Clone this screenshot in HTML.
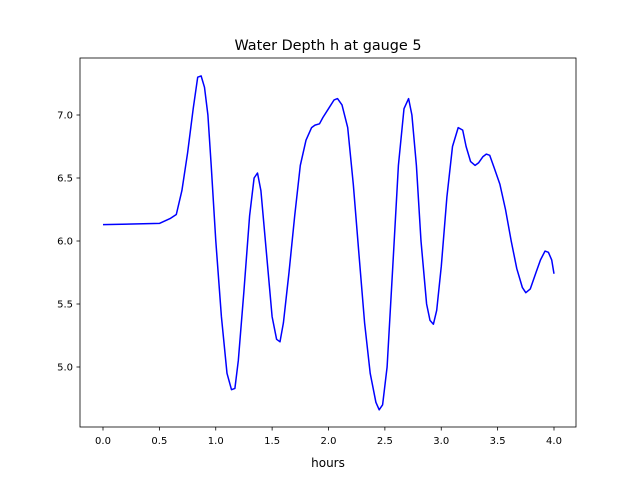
<!DOCTYPE html>
<html><head><meta charset="utf-8"><style>
body{margin:0;background:#fff;}
svg text{font-family:"DejaVu Sans","Liberation Sans",sans-serif;fill:#000;}
</style></head><body>
<svg id="chart" width="640" height="480" xmlns="http://www.w3.org/2000/svg">
<rect width="640" height="480" fill="#fff"/>
<text x="328" y="50" font-size="14.4" text-anchor="middle">Water Depth h at gauge 5</text>
<g id="ticks"></g>
<path id="line" fill="none" stroke="#0000ff" stroke-width="1.5" stroke-linejoin="round"/>
<rect x="80" y="58" width="496" height="369" fill="none" stroke="#000" stroke-width="0.8"/>
<text x="328" y="467" font-size="12" text-anchor="middle">hours</text>
</svg>
<script>
const hours=[0,0.5,0.6,0.65,0.7,0.75,0.8,0.84,0.87,0.9,0.93,0.96,1.0,1.05,1.1,1.14,1.17,1.2,1.25,1.3,1.34,1.37,1.4,1.45,1.5,1.54,1.57,1.6,1.65,1.7,1.75,1.8,1.85,1.88,1.92,1.95,2.0,2.05,2.08,2.12,2.17,2.22,2.27,2.32,2.37,2.42,2.45,2.48,2.52,2.57,2.62,2.67,2.71,2.74,2.78,2.82,2.87,2.9,2.93,2.96,3.0,3.05,3.1,3.15,3.19,3.22,3.26,3.3,3.33,3.37,3.4,3.43,3.47,3.52,3.57,3.62,3.67,3.72,3.75,3.79,3.84,3.88,3.92,3.95,3.98,4.0];
const depth=[6.13,6.14,6.18,6.21,6.4,6.7,7.05,7.3,7.31,7.22,7.0,6.6,6.0,5.4,4.95,4.82,4.83,5.05,5.6,6.2,6.5,6.54,6.4,5.9,5.4,5.22,5.2,5.35,5.75,6.2,6.6,6.8,6.9,6.92,6.93,6.98,7.05,7.12,7.13,7.08,6.9,6.45,5.9,5.35,4.95,4.72,4.66,4.7,5.0,5.8,6.6,7.05,7.13,7.0,6.6,6.0,5.5,5.37,5.34,5.45,5.8,6.35,6.75,6.9,6.88,6.75,6.63,6.6,6.62,6.67,6.69,6.68,6.58,6.45,6.25,6.0,5.78,5.63,5.59,5.62,5.75,5.85,5.92,5.91,5.85,5.74];
const xTicks=[0,0.5,1,1.5,2,2.5,3,3.5,4];
const xTickLabels=["0.0","0.5","1.0","1.5","2.0","2.5","3.0","3.5","4.0"];
const yTicks=[5,5.5,6,6.5,7];
const yTickLabels=["5.0","5.5","6.0","6.5","7.0"];
const X=v=>103+v*112.75, Y=v=>241-(v-6)*126;
const NS="http://www.w3.org/2000/svg", g=document.getElementById('ticks');
function mk(t,a){const e=document.createElementNS(NS,t);for(const k in a)e.setAttribute(k,a[k]);g.appendChild(e);return e;}
xTicks.forEach((v,i)=>{
 const l=mk('line',{x1:X(v),x2:X(v),y1:427,y2:430.5,stroke:'#000','stroke-width':0.8});
 
 
 const t=mk('text',{x:X(v),y:444,'font-size':10,'text-anchor':'middle'});t.textContent=xTickLabels[i];
 
 
});
yTicks.forEach((v,i)=>{
 const l=mk('line',{x1:76.5,x2:80,y1:Y(v),y2:Y(v),stroke:'#000','stroke-width':0.8});
 
 
 const t=mk('text',{x:73,y:Y(v)+3.5,'font-size':10,'text-anchor':'end'});t.textContent=yTickLabels[i];
 
 
});
document.getElementById('line').setAttribute('d',hours.map((h,i)=>(i?'L':'M')+X(h).toFixed(1)+','+Y(depth[i]).toFixed(1)).join(''));
</script>
</body></html>
